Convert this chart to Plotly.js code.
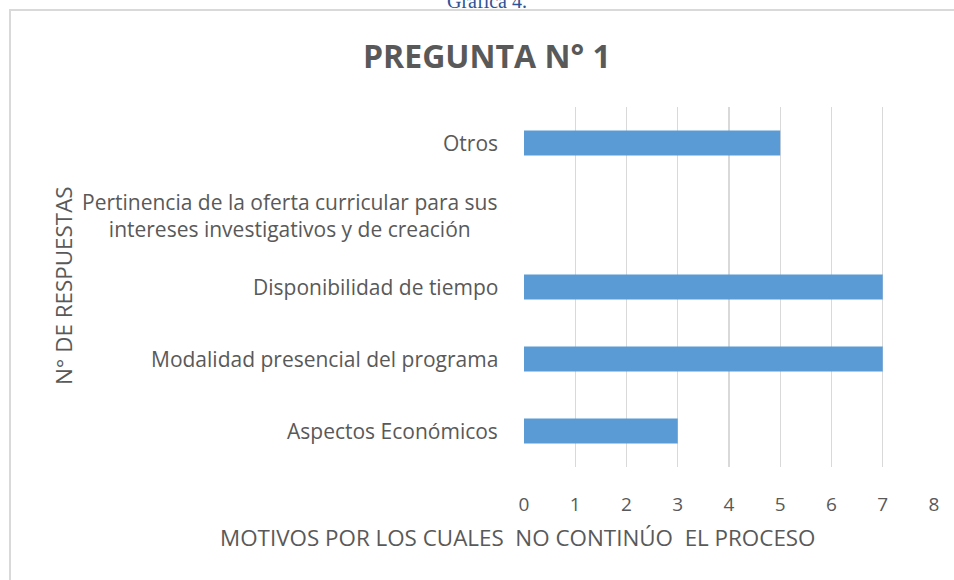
<!DOCTYPE html>
<html>
<head>
<meta charset="utf-8">
<script src="https://cdn.plot.ly/plotly-3.0.1.min.js"></script>
<style>
html,body{margin:0;padding:0;background:#fff;}
#chart{width:954px;height:580px;}
</style>
</head>
<body>
<div id="chart"></div>
<script>
const categories = [
  "Aspectos Económicos",
  "Modalidad presencial del programa",
  "Disponibilidad de tiempo",
  "Pertinencia de la oferta curricular para sus<br>intereses investigativos y de creación",
  "Otros"
];
const values = [3, 7, 7, 0, 5];
const xTicks = [0, 1, 2, 3, 4, 5, 6, 7, 8];

const chartTitle = "PREGUNTA N° 1";
const xTitle = "MOTIVOS POR LOS CUALES\u00a0 NO CONTINÚO\u00a0 EL PROCESO";
const yTitle = "N° DE RESPUESTAS";
const caption = "Gráfica 4.";

const gray = "#595959";
const catFont = {family: "Open Sans, sans-serif", size: 21, color: gray};
const titleFont = {family: "Open Sans, sans-serif", size: 22.4, color: gray};
const tickFont = {family: "Open Sans, sans-serif", size: 19, color: gray};

// pixel helpers for paper coords (plot area x:524..934, y:107..467)
const L = 524, R = 934, T = 107, B = 467;
const px = v => (v - L) / (R - L);
const py = v => (B - v) / (B - T);

const annotations = categories.map(c => ({
  xref: "paper", yref: "y", x: 0, y: c, xanchor: "right", yanchor: "middle",
  xshift: -24, text: c, showarrow: false, align: "center", font: catFont
}));
annotations.push({
  xref: "paper", yref: "paper", x: px(487), y: py(55), xanchor: "center", yanchor: "middle",
  text: "<b>" + chartTitle + "</b>", showarrow: false,
  font: {family: "Liberation Sans Narrow, Open Sans, sans-serif", size: 32, color: gray}
});
annotations.push({
  xref: "paper", yref: "paper", x: px(518), y: py(537), xanchor: "center", yanchor: "middle",
  text: xTitle, showarrow: false, font: titleFont
});
annotations.push({
  xref: "paper", yref: "paper", x: px(63), y: py(285), xanchor: "center", yanchor: "middle",
  text: yTitle, showarrow: false, textangle: -90, font: titleFont
});
annotations.push({
  xref: "paper", yref: "paper", x: px(487), y: py(1), xanchor: "center", yanchor: "middle",
  text: caption, showarrow: false,
  font: {family: "Liberation Serif, serif", size: 20, color: "#2F5496"}
});

const trace = {
  type: "bar", orientation: "h",
  x: values, y: categories,
  marker: {color: "#5B9BD5", line: {width: 0}},
  hoverinfo: "x+y"
};

const layout = {
  width: 954, height: 580,
  margin: {l: L, r: 954 - R, t: T, b: 580 - B, pad: 0},
  paper_bgcolor: "#fff", plot_bgcolor: "#fff",
  bargap: 0.65,
  showlegend: false,
  xaxis: {
    range: [0, 8], tickvals: xTicks, ticktext: xTicks.map(String),
    showgrid: true, gridcolor: "#d9d9d9", gridwidth: 1.3, zeroline: false,
    showline: false, ticks: "outside", ticklen: 20, tickcolor: "rgba(0,0,0,0)",
    tickfont: tickFont, fixedrange: true
  },
  yaxis: {
    type: "category", categoryorder: "array", categoryarray: categories,
    showticklabels: false, showgrid: false, zeroline: false, showline: false,
    range: [-0.5, 4.5], fixedrange: true
  },
  annotations: annotations,
  shapes: [{
    type: "rect", xref: "paper", yref: "paper",
    x0: px(10), x1: px(1000), y0: py(10), y1: py(620),
    line: {color: "#d9d9d9", width: 2}, fillcolor: "rgba(0,0,0,0)", layer: "below"
  }]
};

Plotly.newPlot("chart", [trace], layout, {displayModeBar: false, staticPlot: true});
</script>
</body>
</html>
